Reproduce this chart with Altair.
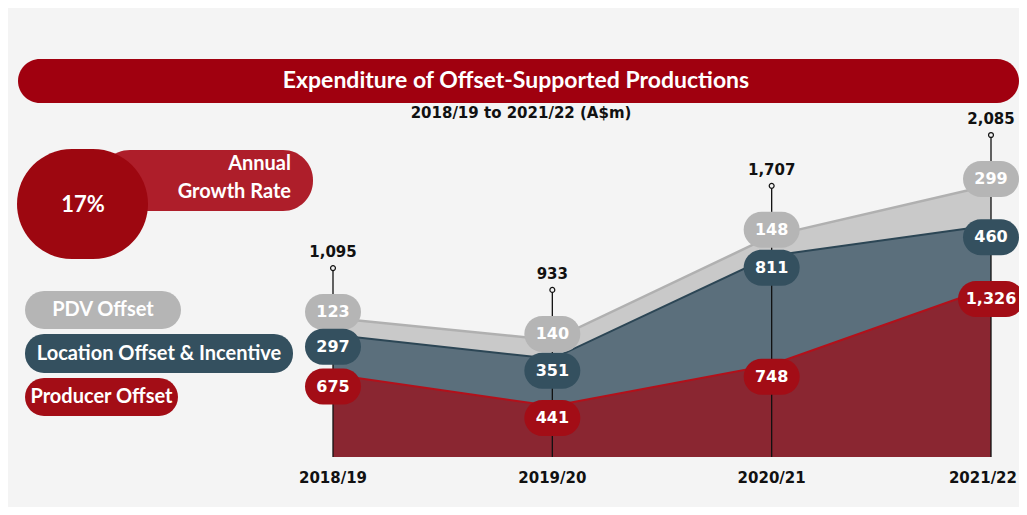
import altair as alt
import pandas as pd

# ---- data ----
years = ["2018/19", "2019/20", "2020/21", "2021/22"]
producer = [675, 441, 748, 1326]
location = [297, 351, 811, 460]
pdv = [123, 140, 148, 299]
totals = [1095, 933, 1707, 2085]
series_names = ["PDV Offset", "Location Offset & Incentive", "Producer Offset"]
title_text = "Expenditure of Offset-Supported Productions"
subtitle_text = "2018/19 to 2021/22 (A$m)"
growth_value = "17%"
growth_lines = ["Annual", "Growth Rate"]

FONT = "Lato"
NUMFONT = "DejaVu Sans"
W, H = 1011, 499
FLOOR = 62
YMAX = 2085

RED = "#a30d16"
BLUE = "#34505f"
GRAY = "#b5b5b5"

df = pd.DataFrame({
    "year": years,
    "producer": producer,
    "location": location,
    "pdv": pdv,
    "total": totals,
})
df["blue_top"] = df["producer"] + df["location"]
df["gray_top"] = df["blue_top"] + df["pdv"]

xenc = alt.X("year:N", sort=years,
             scale=alt.Scale(type="point", domain=years, range=[325, 983], padding=0),
             axis=None)
yscale = alt.Scale(domain=[FLOOR, YMAX], range=[449, 177], nice=False, zero=False)


def Y(field):
    return alt.Y(f"{field}:Q", scale=yscale, axis=None)


base = alt.Chart(df)

red_area = base.mark_area(color="#8a2631").encode(x=xenc, y=Y("producer"), y2=alt.datum(FLOOR))
blue_area = base.mark_area(color="#5b6f7c").encode(x=xenc, y=Y("blue_top"), y2="producer:Q")
gray_area = base.mark_area(color="#c9c9c9").encode(x=xenc, y=Y("gray_top"), y2="blue_top:Q")

gray_line = base.mark_line(color="#b0b0b0", strokeWidth=2.5).encode(x=xenc, y=Y("gray_top"))
blue_line = base.mark_line(color="#2c4655", strokeWidth=2).encode(x=xenc, y=Y("blue_top"))
red_line = base.mark_line(color="#b3101a", strokeWidth=2).encode(x=xenc, y=Y("producer"))

stems = base.mark_rule(color="#111111", strokeWidth=1.3, yOffset=-50).encode(
    x=xenc, y=Y("total"), y2=alt.datum(FLOOR))
knobs = base.mark_point(shape="circle", size=24, filled=True, fill="#f4f4f4",
                        stroke="#111111", strokeWidth=1.2, opacity=1, yOffset=-50).encode(
    x=xenc, y=Y("total"))
total_txt = base.mark_text(font=NUMFONT, fontSize=15, fontWeight="bold", color="#111111",
                           yOffset=-66).encode(
    x=xenc, y=Y("total"), text=alt.Text("total:Q", format=","))


def pills(value_field, top_field, color, off):
    layers = []
    for cond, w in [(f"datum.{value_field} < 1000", 56), (f"datum.{value_field} >= 1000", 66)]:
        layers.append(
            base.transform_filter(cond)
            .mark_rect(width=w, height=36, cornerRadius=18, color=color, yOffset=off)
            .encode(x=xenc, y=Y(top_field))
        )
    layers.append(
        base.mark_text(font=NUMFONT, fontSize=16, fontWeight="bold", color="white", yOffset=off)
        .encode(x=xenc, y=Y(top_field), text=alt.Text(f"{value_field}:Q", format=","))
    )
    return layers


pill_layers = (pills("pdv", "gray_top", GRAY, -6)
               + pills("location", "blue_top", BLUE, 12)
               + pills("producer", "producer", RED, 12))

last_year = years[-1]
year_txt = base.transform_filter(f"datum.year != '{last_year}'").mark_text(
    font=NUMFONT, fontSize=15, fontWeight="bold", color="#111111").encode(
    x=xenc, y=alt.value(470), text="year:N")
year_txt_last = base.transform_filter(f"datum.year == '{last_year}'").mark_text(
    font=NUMFONT, fontSize=15, fontWeight="bold", color="#111111", align="right", dx=26).encode(
    x=xenc, y=alt.value(470), text="year:N")

# ---- decorations ----
deco = alt.Chart(pd.DataFrame({"k": [0]}))

title_bar = deco.mark_rect(color="#a0000f", cornerRadius=22).encode(
    x=alt.value(10), x2=alt.value(1011), y=alt.value(51), y2=alt.value(95))
title = deco.mark_text(font=FONT, fontSize=23, fontWeight="bold", color="white",
                       text=title_text).encode(x=alt.value(508), y=alt.value(73))
subtitle = deco.mark_text(font=NUMFONT, fontSize=15, fontWeight="bold", color="#111111",
                          text=subtitle_text).encode(x=alt.value(513), y=alt.value(105))

growth_pill = deco.mark_rect(color="#ae1e2a", cornerRadius=30).encode(
    x=alt.value(92), x2=alt.value(305), y=alt.value(142), y2=alt.value(203))
growth_circle = deco.mark_rect(color="#9d0710", cornerRadius=55).encode(
    x=alt.value(9), x2=alt.value(140), y=alt.value(141), y2=alt.value(251))
growth_num = deco.mark_text(font=FONT, fontSize=22, fontWeight="bold", color="white",
                            text=growth_value).encode(x=alt.value(75), y=alt.value(197))
growth_l1 = deco.mark_text(font=FONT, fontSize=20, fontWeight="bold", color="white",
                           align="right", text=growth_lines[0]).encode(x=alt.value(283), y=alt.value(156))
growth_l2 = deco.mark_text(font=FONT, fontSize=20, fontWeight="bold", color="white",
                           align="right", text=growth_lines[1]).encode(x=alt.value(283), y=alt.value(184))

legend_layers = []
legend_specs = [
    (series_names[0], GRAY, 17, 173, 283, 321),
    (series_names[1], BLUE, 17, 285, 326, 365),
    (series_names[2], RED, 17, 170, 370, 408),
]
for name, col, x0, x1, y0, y1 in legend_specs:
    legend_layers.append(deco.mark_rect(color=col, cornerRadius=19).encode(
        x=alt.value(x0), x2=alt.value(x1), y=alt.value(y0), y2=alt.value(y1)))
    legend_layers.append(deco.mark_text(font=FONT, fontSize=20, fontWeight="bold", color="white",
                                        text=name).encode(
        x=alt.value((x0 + x1) / 2), y=alt.value((y0 + y1) / 2)))

chart = alt.layer(
    red_area, blue_area, gray_area, gray_line, blue_line, red_line,
    stems, knobs, total_txt, *pill_layers, year_txt, year_txt_last,
    title_bar, title, subtitle, growth_pill, growth_circle, growth_num, growth_l1, growth_l2,
    *legend_layers,
).properties(
    width=W, height=H, padding=0, background="white", autosize="none"
).configure_view(fill="#f4f4f4", stroke=None)

chart.save("out.html", embed_options={"renderer": "svg", "actions": False})
